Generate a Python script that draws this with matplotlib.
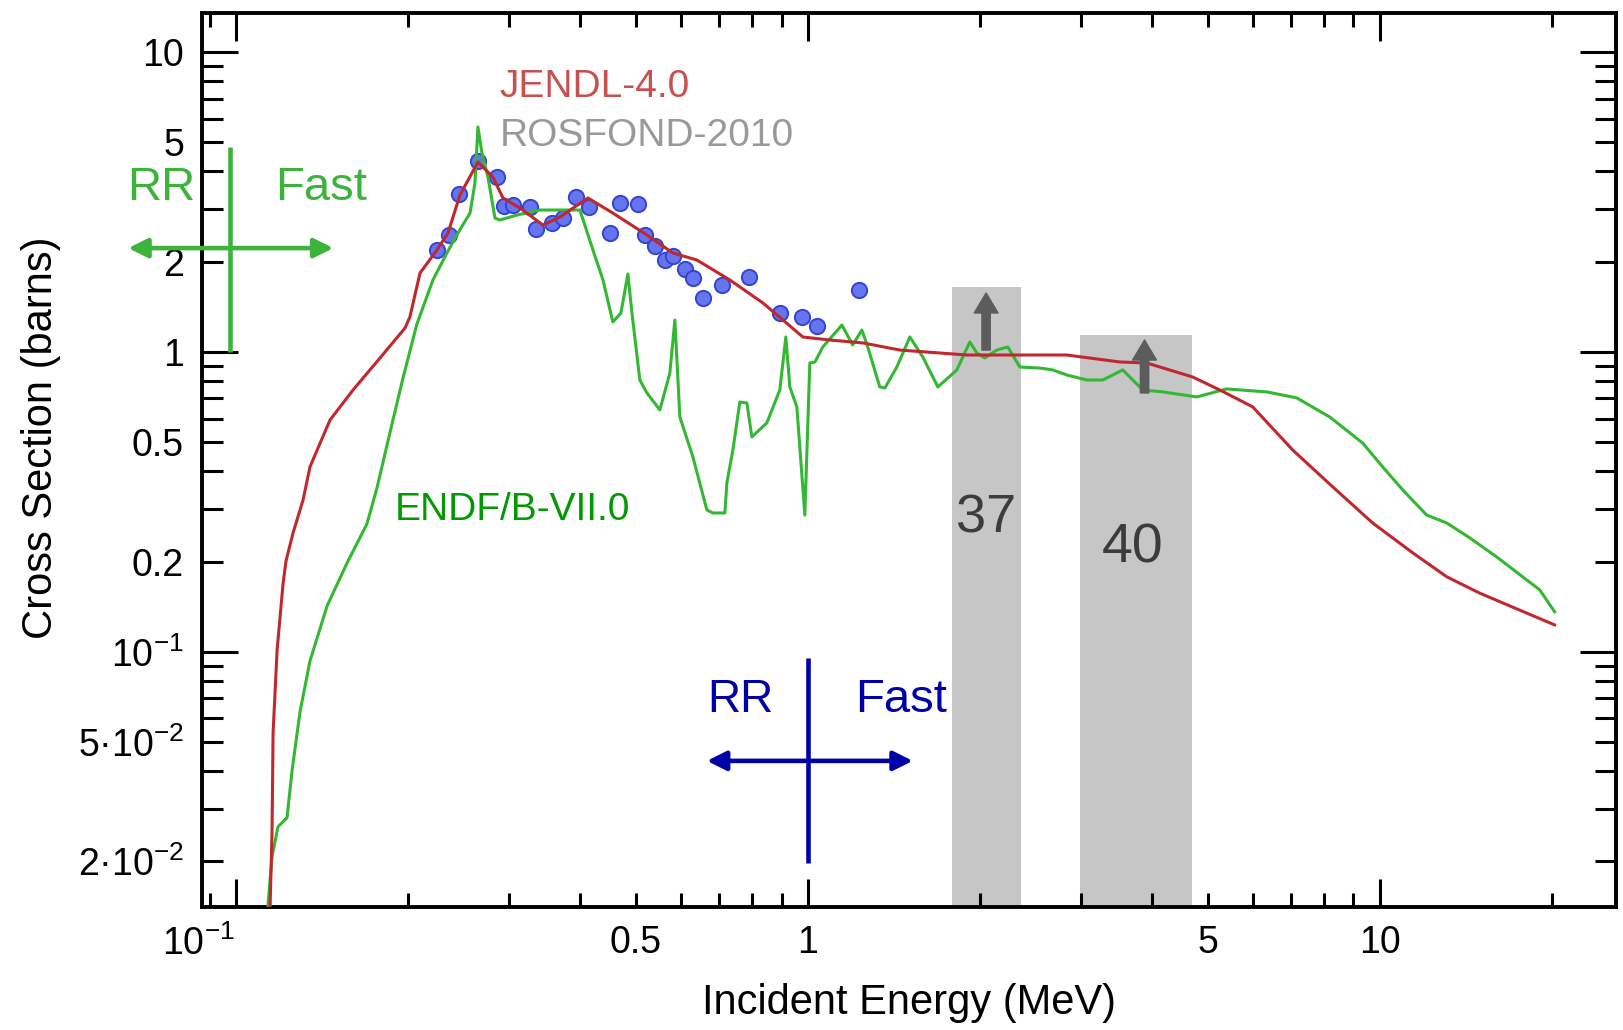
import numpy as np
import matplotlib.pyplot as plt
from matplotlib.ticker import LogLocator, FuncFormatter

plt.rcParams['font.family'] = ['Liberation Sans', 'DejaVu Sans']
plt.rcParams['mathtext.fontset'] = 'custom'
plt.rcParams['mathtext.rm'] = 'Liberation Sans'
plt.rcParams['mathtext.it'] = 'Liberation Sans:italic'
plt.rcParams['mathtext.bf'] = 'Liberation Sans:bold'

# JENDL-4.0 evaluation (MeV, barns)
jendl_e = [0.1140, 0.1147, 0.1156, 0.1161, 0.1180, 0.1209, 0.1223, 0.1258, 0.1310, 0.1347,
           0.1460, 0.1602, 0.1786, 0.1975, 0.2014, 0.2098, 0.2246, 0.2348, 0.2464, 0.2649,
           0.2813, 0.2930, 0.3137, 0.3441, 0.3685, 0.4124, 0.4560, 0.5231, 0.5808, 0.6397,
           0.7306, 0.8345, 0.980, 1.093, 1.248, 1.448, 1.897, 2.837, 3.512, 3.914,
           4.711, 5.253, 5.998, 7.046, 8.277, 9.723, 11.42, 13.10, 14.96, 17.08, 20.23]
jendl_xs = [0.010, 0.0141, 0.0249, 0.0537, 0.1016, 0.170, 0.201, 0.249, 0.321, 0.414,
            0.593, 0.747, 0.955, 1.202, 1.308, 1.834, 2.188, 2.493, 3.337, 4.30,
            3.831, 3.262, 3.020, 2.651, 2.818, 3.262, 2.906, 2.455, 2.138, 2.026,
            1.738, 1.457, 1.122, 1.096, 1.072, 1.015, 0.977, 0.977, 0.926, 0.919,
            0.825, 0.747, 0.656, 0.471, 0.355, 0.269, 0.214, 0.178, 0.157, 0.141, 0.123]

# ENDF/B-VII.0 evaluation
endf_e = [0.1135, 0.1138, 0.1156, 0.1184, 0.1228, 0.1253, 0.1294, 0.1347, 0.1443, 0.1564,
          0.1694, 0.1764, 0.1858, 0.1959, 0.2072, 0.2210, 0.2338, 0.2444, 0.2566, 0.2617,
          0.2649, 0.2692, 0.2758, 0.2837, 0.2894, 0.3099, 0.340, 0.373, 0.3994, 0.4209,
          0.4383, 0.456, 0.4711, 0.4845, 0.4923, 0.5084, 0.5231, 0.5511, 0.5737, 0.5854,
          0.5973, 0.6295, 0.6659, 0.6822, 0.716, 0.7218, 0.7395, 0.7605, 0.7823, 0.7981,
          0.8478, 0.8933, 0.9152, 0.9301, 0.9567, 0.988, 1.008, 1.029, 1.062, 1.147,
          1.198, 1.243, 1.273, 1.336, 1.364, 1.431, 1.508, 1.589, 1.688, 1.822,
          1.866, 1.920, 1.975, 2.039, 2.140, 2.237, 2.348, 2.545, 2.681, 2.837,
          3.074, 3.280, 3.554, 3.852, 4.175, 4.787, 5.401, 6.346, 7.160, 8.179,
          9.339, 10.12, 10.97, 12.08, 13.10, 14.37, 16.02, 17.78, 19.05, 20.23]
endf_xs = [0.010, 0.01445, 0.0207, 0.0261, 0.0280, 0.0401, 0.0631, 0.0933, 0.1423, 0.198,
           0.267, 0.352, 0.537, 0.819, 1.240, 1.738, 2.138, 2.493, 2.906, 3.659,
           5.623, 4.606, 3.831, 2.797, 2.754, 2.862, 2.974, 2.974, 2.974, 2.188,
           1.738, 1.259, 1.349, 1.820, 1.359, 0.8065, 0.730, 0.641, 0.851, 1.278,
           0.607, 0.4467, 0.2973, 0.2905, 0.2905, 0.366, 0.4715, 0.681, 0.676, 0.521,
           0.580, 0.747, 1.122, 0.7645, 0.656, 0.286, 0.919, 0.926, 1.039, 1.230,
           1.055, 1.184, 1.039, 0.7645, 0.7586, 0.891, 1.122, 0.962, 0.7645, 0.871,
           0.962, 1.080, 0.992, 0.955, 1.015, 1.039, 0.891, 0.884, 0.871, 0.838,
           0.8065, 0.8065, 0.871, 0.747, 0.736, 0.708, 0.753, 0.736, 0.703, 0.607,
           0.497, 0.414, 0.347, 0.286, 0.269, 0.240, 0.2073, 0.178, 0.161, 0.136]

# measured points
exp_e = [0.2246, 0.2357, 0.2454, 0.2649, 0.2860, 0.2941, 0.3050, 0.3266, 0.3346, 0.3567,
         0.373, 0.3930, 0.4141, 0.4506, 0.4691, 0.5043, 0.5188, 0.5401, 0.5623, 0.5808,
         0.6095, 0.6295, 0.6552, 0.7075, 0.7886, 0.8933, 0.976, 1.037, 1.228]
exp_xs = [2.188, 2.455, 3.363, 4.333, 3.831, 3.067, 3.090, 3.043, 2.570, 2.692,
          2.797, 3.287, 3.043, 2.493, 3.139, 3.114, 2.455, 2.256, 2.026, 2.089,
          1.891, 1.765, 1.514, 1.672, 1.778, 1.349, 1.308, 1.221, 1.609]

# energy groups
grp_names = ['37', '40']
grp_lo = [1.785, 2.989]
grp_hi = [2.357, 4.69]
grp_top = [1.646, 1.14]

ytick_text = {10: '10', 5: '5', 2: '2', 1: '1', 0.5: '0.5', 0.2: '0.2',
              0.1: '10$^{-1}$', 0.05: '5·10$^{-2}$', 0.02: '2·10$^{-2}$'}
xtick_text = {0.5: '0.5', 1: '1', 5: '5', 10: '10'}


def make_fmt(table):
    def f(v, pos):
        for k, s in table.items():
            if abs(v - k) < 1e-6 * k:
                return s
        return ''
    return FuncFormatter(f)


fig = plt.figure(figsize=(16.24, 10.30), dpi=100)
ax = fig.add_axes([202 / 1624, 1 - 907 / 1030, 1414 / 1624, 894 / 1030])
ax.set_xscale('log')
ax.set_yscale('log')
ax.set_xlim(0.0872, 25.9)
ax.set_ylim(0.0141, 13.5)

for x0, x1, top in zip(grp_lo, grp_hi, grp_top):
    ax.fill_between([x0, x1], 0.001, top, color='#c6c6c6', lw=0, zorder=1)

ax.plot(exp_e, exp_xs, 'o', ms=11, mfc='#6675ee', mec='#3343d6', mew=1.4, zorder=2.5)
ax.plot(endf_e, endf_xs, color='#33b833', lw=2.2, zorder=3)
ax.plot(jendl_e, jendl_xs, color='#c0282d', lw=2.2, zorder=3.1)

# group labels and arrows
ax.text(2.05, 0.251, grp_names[0], fontsize=39, color='#3c3c3c', ha='center', va='baseline', zorder=5)
ax.text(3.70, 0.198, grp_names[1], fontsize=40, color='#3c3c3c', ha='center', va='baseline', zorder=5)
arr = dict(arrowstyle='simple,head_length=0.72,head_width=0.86,tail_width=0.3',
           color='#5c5c5c', mutation_scale=20, shrinkA=0, shrinkB=0)
ax.annotate('', xy=(2.05, 1.573), xytext=(2.05, 1.015), arrowprops=arr, zorder=5)
ax.annotate('', xy=(3.88, 1.096), xytext=(3.88, 0.730), arrowprops=arr, zorder=5)

# library names
ax.text(0.2894, 7.08, 'JENDL-4.0', fontsize=28, color='#c8504d', va='baseline')
ax.text(0.2894, 4.86, 'ROSFOND-2010', fontsize=28, color='#999999', va='baseline')
ax.text(0.1897, 0.2754, 'ENDF/B-VII.0', fontsize=28, color='#009a00', va='baseline')

# RR / Fast boundaries
g = '#3cb43c'
ax.plot([0.0976, 0.0976], [1.0, 4.82], color=g, lw=3.3, clip_on=False, solid_capstyle='butt', zorder=4)
ax.annotate('', xy=(0.0648, 2.22), xytext=(0.148, 2.22), annotation_clip=False,
            arrowprops=dict(arrowstyle='<|-|>', color=g, lw=3.3, mutation_scale=29, shrinkA=0, shrinkB=0))
ax.text(0.0645, 3.21, 'RR', fontsize=34, color=g, va='baseline')
ax.text(0.1170, 3.21, 'Fast', fontsize=34, color=g, va='baseline')

b = '#0000a8'
ax.plot([1.0, 1.0], [0.0198, 0.0955], color=b, lw=3.3, solid_capstyle='butt', zorder=4)
ax.annotate('', xy=(0.666, 0.0433), xytext=(1.526, 0.0433),
            arrowprops=dict(arrowstyle='<|-|>', color=b, lw=3.3, mutation_scale=29, shrinkA=0, shrinkB=0))
ax.text(0.666, 0.0631, 'RR', fontsize=33, color=b, va='baseline')
ax.text(1.208, 0.0631, 'Fast', fontsize=34, color=b, va='baseline')

# axes styling
for s in ax.spines.values():
    s.set_linewidth(2.8)
ax.xaxis.set_major_locator(LogLocator(base=10, numticks=20))
ax.xaxis.set_minor_locator(LogLocator(base=10, subs=np.arange(2, 10), numticks=50))
ax.yaxis.set_major_locator(LogLocator(base=10, numticks=20))
ax.yaxis.set_minor_locator(LogLocator(base=10, subs=np.arange(2, 10), numticks=50))
ax.xaxis.set_major_formatter(make_fmt(xtick_text))
ax.xaxis.set_minor_formatter(make_fmt(xtick_text))
ax.yaxis.set_major_formatter(make_fmt(ytick_text))
ax.yaxis.set_minor_formatter(make_fmt(ytick_text))
ax.tick_params(which='both', direction='in', top=True, right=True, width=2.2, labelsize=27)
ax.tick_params(axis='x', which='major', length=20, pad=13)
ax.tick_params(axis='x', which='minor', length=10, pad=13)
ax.tick_params(axis='y', which='major', length=26, pad=13)
ax.tick_params(axis='y', which='minor', length=15, pad=13)
# the 10^-1 energy label sits left of its tick in the original
ax.annotate('10$^{-1}$', xy=(0.1, 0), xycoords=('data', 'axes fraction'),
            xytext=(-27, -13), textcoords='offset points', ha='center', va='top', fontsize=27)

ax.set_xlabel('Incident Energy (MeV)', fontsize=30)
ax.set_ylabel('Cross Section (barns)', fontsize=30)
ax.xaxis.label.set_va('center')
ax.yaxis.label.set_va('center')
ax.xaxis.set_label_coords(0.5, (907 - 1003) / 894)
ax.yaxis.set_label_coords((41 - 202) / 1414, (907 - 438) / 894)

fig.savefig('out.png', dpi=100)
